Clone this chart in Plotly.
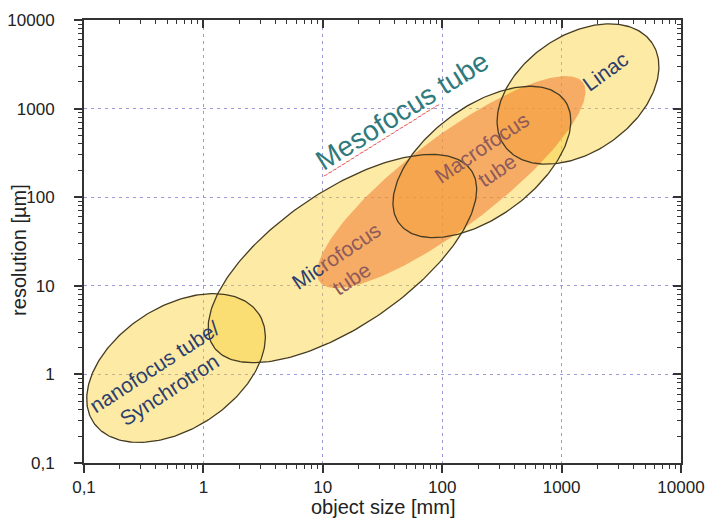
import numpy as np
import plotly.graph_objects as go

# ---- axis ticks ----
tick_vals = [0.1, 1, 10, 100, 1000, 10000]
tick_text = ["0,1", "1", "10", "100", "1000", "10000"]
minor_vals = [m * 10.0 ** e for e in range(-1, 4) for m in range(2, 10)]

# ---- regions (ellipses in log-log space) ----
# centre, end of major semi-axis, end of conjugate (minor) semi-axis -- data units
region_names = ["nanofocus", "microfocus", "macrofocus", "linac", "mesofocus"]
center_x = [0.59, 14.6, 215, 1372, 119]
center_y = [1.18, 20.3, 250, 1461, 148]
major_x = [2.92, 175, 1058, 5694, 1502]
major_y = [4.79, 201, 1241, 5572, 1981]
minor_x = [0.311, 7.04, 114, 723, 70.5]
minor_y = [4.47, 85.6, 783, 5035, 375]

# ---- labels ----
NAVY = "#2c3e6c"
BROWN = "#8f5a5a"
TEAL = "#2f7a7d"
label_text = [
    "nanofocus tube/<br>Synchrotron",
    "Mic<span style='color:%s'>rofocus</span><br><span style='color:%s'>tube</span>" % (BROWN, BROWN),
    "Macrofocus<br>tube",
    "Linac",
    "Mesofocus tube",
    "~" * 26,
]
label_x = [0.45, 15.05, 246.6, 2309, 46.5, 31.3]
label_y = [0.911, 16.3, 270, 2657, 964, 442]
label_angle = [-33, -34, -34, -36, -32, -32]
label_color = [NAVY, NAVY, BROWN, NAVY, TEAL, "#e03030"]
label_size = [21, 21, 21, 21, 28, 9]

x_title = "object size [mm]"
y_title = "resolution [µm]"


def ellipse(i, n=241):
    t = np.linspace(0, 2 * np.pi, n)
    cx, cy = np.log10(center_x[i]), np.log10(center_y[i])
    ux, uy = np.log10(major_x[i]) - cx, np.log10(major_y[i]) - cy
    vx, vy = np.log10(minor_x[i]) - cx, np.log10(minor_y[i]) - cy
    X = cx + ux * np.cos(t) + vx * np.sin(t)
    Y = cy + uy * np.cos(t) + vy * np.sin(t)
    return 10 ** X, 10 ** Y


fig = go.Figure()

YELLOW = "rgba(248,208,55,0.45)"
ORANGE = "rgba(240,120,50,0.55)"
OUTLINE = "#463c22"

# yellow fills
for i in range(4):
    x, y = ellipse(i)
    fig.add_trace(go.Scatter(x=x, y=y, mode="lines", fill="toself", fillcolor=YELLOW,
                             line=dict(width=0), hoverinfo="skip", showlegend=False))
# orange (mesofocus) fill
x, y = ellipse(4)
fig.add_trace(go.Scatter(x=x, y=y, mode="lines", fill="toself", fillcolor=ORANGE,
                         line=dict(width=0), hoverinfo="skip", showlegend=False))
# outlines of yellow regions
for i in range(4):
    x, y = ellipse(i)
    fig.add_trace(go.Scatter(x=x, y=y, mode="lines", line=dict(color=OUTLINE, width=1.3),
                             hoverinfo="skip", showlegend=False))

# invisible trace for mirrored (inside-tick) axes
fig.add_trace(go.Scatter(x=[1], y=[1], xaxis="x2", yaxis="y2", mode="markers",
                         marker=dict(opacity=0), hoverinfo="skip", showlegend=False))

for i in range(len(label_text)):
    fig.add_annotation(x=np.log10(label_x[i]), y=np.log10(label_y[i]), xref="x", yref="y",
                       text=label_text[i], showarrow=False, textangle=label_angle[i],
                       align="center", font=dict(size=label_size[i], color=label_color[i]))

# axis titles
fig.add_annotation(x=0.5, y=-0.1, xref="paper", yref="paper", text=x_title, showarrow=False,
                   xanchor="center", yanchor="middle", font=dict(size=20, color="#222222"))
fig.add_annotation(x=-0.108, y=0.48, xref="paper", yref="paper", text=y_title, showarrow=False,
                   textangle=-90, xanchor="center", yanchor="middle",
                   font=dict(size=20, color="#222222"))

AX = "#333333"
GRID = "#9a9ad8"
common = dict(type="log", range=[-1, 4], zeroline=False, automargin=False)

fig.update_layout(
    width=710, height=519, autosize=False,
    margin=dict(l=84, r=29, t=20, b=56),
    paper_bgcolor="white", plot_bgcolor="white",
    font=dict(family="Arial, 'Liberation Sans', sans-serif", color="#222222"),
    xaxis=dict(**common, tickmode="array", tickvals=tick_vals, ticktext=tick_text,
               ticks="outside", ticklen=8, tickwidth=1.5, tickcolor=AX,
               showline=True, linewidth=2, linecolor=AX,
               showgrid=True, gridcolor=GRID, gridwidth=1, griddash="3px,4px",
               minor=dict(tickmode="array", tickvals=minor_vals, ticks="outside",
                          ticklen=4, tickwidth=1.2, tickcolor=AX, showgrid=False),
               tickfont=dict(size=17, color="#222222"), ticklabelstandoff=0),
    yaxis=dict(**common, tickmode="array", tickvals=tick_vals, ticktext=tick_text,
               ticks="outside", ticklen=8, tickwidth=1.5, tickcolor=AX,
               showline=True, linewidth=2, linecolor=AX,
               showgrid=True, gridcolor=GRID, gridwidth=1, griddash="3px,4px",
               minor=dict(tickmode="array", tickvals=minor_vals, ticks="outside",
                          ticklen=4, tickwidth=1.2, tickcolor=AX, showgrid=False),
               tickfont=dict(size=17, color="#222222"), ticklabelstandoff=16),
    xaxis2=dict(**common, overlaying="x", side="top", anchor="y",
                tickmode="array", tickvals=tick_vals, ticks="inside", ticklen=8, tickwidth=1.5,
                tickcolor=AX, showticklabels=False, showgrid=False,
                showline=True, linewidth=2, linecolor=AX,
                minor=dict(tickmode="array", tickvals=minor_vals, ticks="inside",
                           ticklen=4, tickwidth=1.2, tickcolor=AX, showgrid=False)),
    yaxis2=dict(**common, overlaying="y", side="right", anchor="x",
                tickmode="array", tickvals=tick_vals, ticks="inside", ticklen=8, tickwidth=1.5,
                tickcolor=AX, showticklabels=False, showgrid=False,
                showline=True, linewidth=2, linecolor=AX,
                minor=dict(tickmode="array", tickvals=minor_vals, ticks="inside",
                           ticklen=4, tickwidth=1.2, tickcolor=AX, showgrid=False)),
)

fig.write_html("out.html", config={"displayModeBar": False},
               post_script="document.body.style.margin='0px';")
